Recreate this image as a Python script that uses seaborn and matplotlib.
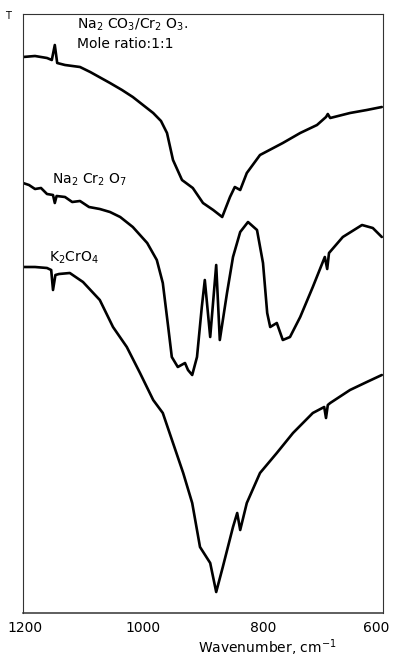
import numpy as np
import pandas as pd
import matplotlib
matplotlib.use("Agg")
import matplotlib.pyplot as plt
import matplotlib.transforms as mtransforms
import seaborn as sns

# ---- data (wavenumber cm-1, relative transmittance, arbitrary units) ----
wn_mix = [1200, 1180, 1160, 1152, 1147, 1143, 1130, 1105, 1088, 1070, 1055, 1035, 1017, 1000, 983, 970, 960, 950, 935, 917, 900, 883,
          868, 855, 847, 838, 827, 805, 767, 738, 710, 695, 692, 688, 655, 627, 602]
t_mix = [556, 557, 555, 553, 568, 550, 548, 546, 541, 535, 530, 523, 516, 508, 500, 492, 480, 453, 433, 425, 410, 403,
         396, 416, 426, 423, 440, 458, 470, 480, 488, 496, 499, 495, 500, 503, 506]

wn_dic = [1200, 1190, 1180, 1170, 1160, 1150, 1147, 1144, 1130, 1118, 1105, 1090, 1072, 1055, 1038, 1017, 993, 977,
          967, 958, 952, 942, 930, 925, 918, 910, 902, 897, 888, 878, 872, 860, 850, 838, 825,
          810, 800, 793, 788, 777, 767, 755, 738, 717, 697, 693, 690, 667, 635, 617, 602]
t_dic = [430, 428, 424, 425, 419, 418, 410, 417, 416, 411, 412, 406, 404, 401, 396, 386, 370, 353,
         330, 286, 256, 246, 250, 243, 238, 256, 306, 333, 276, 348, 273, 320, 356, 381, 391,
         383, 350, 300, 286, 290, 273, 276, 296, 326, 356, 344, 360, 376, 388, 385, 376]

wn_chr = [1200, 1180, 1160, 1153, 1150, 1146, 1140, 1122, 1100, 1072, 1050, 1027, 1005, 983, 967, 950, 933, 918,
          905, 888, 878, 867, 850, 843, 838, 827, 805, 777, 750, 717, 698, 695, 692, 688, 655, 627, 602]
t_chr = [346, 346, 345, 343, 323, 338, 339, 340, 331, 313, 286, 266, 240, 213, 200, 170, 140, 110,
         66, 50, 21, 46, 86, 100, 83, 110, 140, 160, 180, 200, 206, 195, 208, 210, 223, 231, 238]

series_names = ["mix", "dichromate", "chromate"]
tick_values = [1200, 1000, 800, 600]
tick_labels = ["1200", "1000", "800", "600"]

df = pd.concat([
    pd.DataFrame({"wn": wn_mix, "T": t_mix, "s": series_names[0]}),
    pd.DataFrame({"wn": wn_dic, "T": t_dic, "s": series_names[1]}),
    pd.DataFrame({"wn": wn_chr, "T": t_chr, "s": series_names[2]}),
])

sns.set_style("white")
plt.rcParams['font.family'] = ['DejaVu Sans']
plt.rcParams['text.color'] = 'black'

W, H = 394, 659
fig = plt.figure(figsize=(W / 100, H / 100), dpi=100)
ax = fig.add_axes([23 / W, 1 - 613 / H, (383 - 23) / W, (613 - 14) / H])

sns.lineplot(data=df, x="wn", y="T", hue="s", units="s", estimator=None,
             palette={n: "black" for n in series_names}, linewidth=1.9,
             legend=False, ax=ax, sort=False)

ax.set_xlim(1200, 600)
ax.set_ylim(0, 599)
ax.set_xticks(tick_values)
ax.set_xticklabels(tick_labels, fontsize=10, color="black")
ax.set_yticks([])
ax.tick_params(axis="x", direction="in", length=7, width=1, pad=6, color="black")
ax.set_xlabel("")
ax.set_ylabel("")
for sp in ax.spines.values():
    sp.set_color("#333333")
    sp.set_linewidth(0.8)
ax.spines["bottom"].set_linewidth(1.1)

# nudge the last tick label inward so it stays inside the canvas
lbls = ax.get_xticklabels()
lbls[-1].set_transform(lbls[-1].get_transform() +
                       mtransforms.ScaledTranslation(-7 / 100, 0, fig.dpi_scale_trans))
lbls[0].set_transform(lbls[0].get_transform() +
                      mtransforms.ScaledTranslation(2 / 100, 0, fig.dpi_scale_trans))

def fx(px):
    return px / W

def fy(py):
    return 1 - py / H

fig.text(fx(267), fy(648), "Wavenumber, cm$^{-1}$", ha="center", va="center", fontsize=10)
fig.text(fx(8), fy(16), "T", ha="center", va="center", fontsize=7)
fig.text(fx(77), fy(25), "Na$_2$ CO$_3$/Cr$_2$ O$_3$.", ha="left", va="center", fontsize=10)
fig.text(fx(77), fy(44), "Mole ratio:1:1", ha="left", va="center", fontsize=10)
fig.text(fx(52), fy(180), "Na$_2$ Cr$_2$ O$_7$", ha="left", va="center", fontsize=10)
fig.text(fx(49), fy(258), "K$_2$CrO$_4$", ha="left", va="center", fontsize=10)

fig.savefig("out.png", dpi=100)
